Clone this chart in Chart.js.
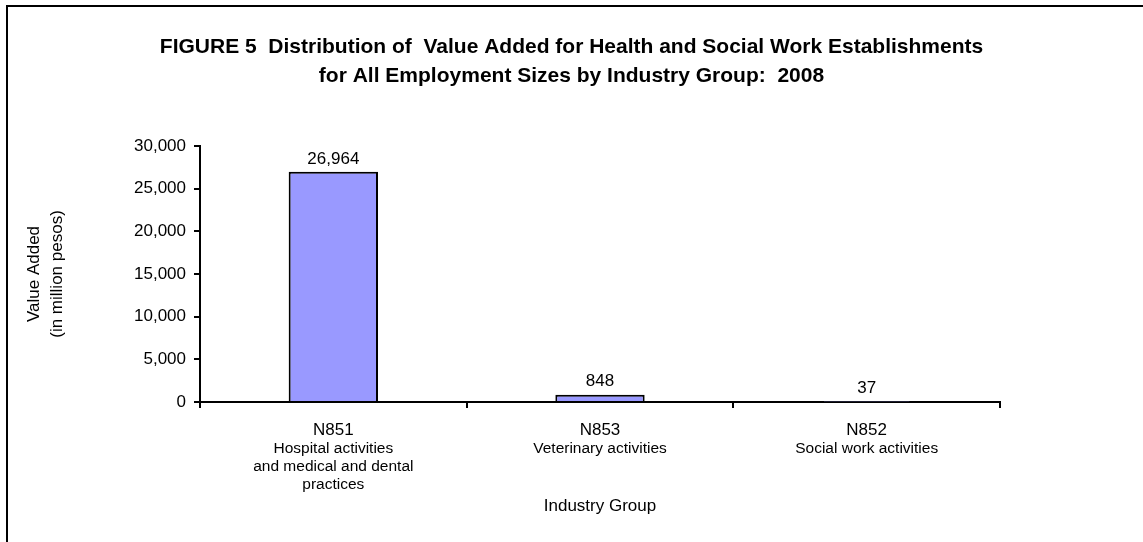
<!DOCTYPE html>
<html>
<head>
<meta charset="utf-8">
<script src="https://cdn.jsdelivr.net/npm/chart.js@4/dist/chart.umd.min.js"></script>
<style>
    html, body { margin: 0; padding: 0; background: #fff; overflow: hidden; }
    #frame { position: absolute; left: 6px; top: 5px; width: 1200px; height: 600px; border: 2px solid #000; }
    #wrap { position: absolute; left: 0; top: 0; width: 1143px; height: 542px; }
</style>
</head>
<body>
<div id="frame"></div>
<div id="wrap"><canvas id="chart"></canvas></div>
<script>
const codes = ['N851', 'N853', 'N852'];
const descriptions = [
    ['Hospital activities', 'and medical and dental', 'practices'],
    ['Veterinary activities'],
    ['Social work activities']
];
const valueAdded = [26964, 848, 37];
const yTicks = [0, 5000, 10000, 15000, 20000, 25000, 30000];

const fontFamily = "Arial, 'Liberation Sans', sans-serif";

// valeurs au-dessus des barres + libellés des groupes sous l'axe
const labelsPlugin = {
    id: 'labelsPlugin',
    afterDatasetsDraw(chart) {
        const ctx = chart.ctx;
        const meta = chart.getDatasetMeta(0);
        const xScale = chart.scales.x;
        ctx.save();
        ctx.fillStyle = '#000';
        ctx.textAlign = 'center';
        ctx.textBaseline = 'middle';
        ctx.font = '17px ' + fontFamily;
        meta.data.forEach((bar, i) => {
            ctx.fillText(valueAdded[i].toLocaleString('en-US'), bar.x, bar.y - 13);
        });
        ctx.font = '15.5px ' + fontFamily;
        descriptions.forEach((lines, i) => {
            const x = xScale.getPixelForValue(i);
            lines.forEach((line, j) => {
                ctx.fillText(line, x, 449 + j * 18);
            });
        });
        ctx.restore();
    }
};

const ctx = document.getElementById('chart').getContext('2d');
new Chart(ctx, {
    type: 'bar',
    data: {
        labels: codes,
        datasets: [{
            data: valueAdded,
            backgroundColor: '#9999FF',
            borderColor: '#000',
            borderWidth: 2,
            categoryPercentage: 1,
            barPercentage: 0.335
        }]
    },
    options: {
        responsive: true,
        maintainAspectRatio: false,
        animation: false,
        layout: { padding: 0 },
        plugins: {
            legend: { display: false },
            tooltip: { enabled: false },
            title: {
                display: true,
                text: ['FIGURE 5  Distribution of  Value Added for Health and Social Work Establishments',
                       'for All Employment Sizes by Industry Group:  2008'],
                color: '#000',
                font: { family: fontFamily, size: 21, weight: 'bold', lineHeight: 1.38 },
                padding: { top: 33, bottom: 55 }
            }
        },
        scales: {
            x: {
                afterFit(scale) { scale.height = 140; },
                grid: { offset: true, drawOnChartArea: false, tickLength: 6, color: '#000', lineWidth: 2 },
                border: { color: '#000', width: 2 },
                ticks: { color: '#000', padding: 12, font: { family: fontFamily, size: 17 } },
                title: {
                    display: true,
                    text: 'Industry Group',
                    color: '#000',
                    font: { family: fontFamily, size: 17 },
                    padding: { top: 0, bottom: 25 }
                }
            },
            y: {
                min: 0,
                max: 30000,
                afterFit(scale) { scale.width = 200; },
                afterBuildTicks(scale) { scale.ticks = yTicks.map(v => ({ value: v })); },
                grid: { drawOnChartArea: false, tickLength: 6, color: '#000', lineWidth: 2 },
                border: { color: '#000', width: 2 },
                ticks: {
                    color: '#000',
                    padding: 8,
                    font: { family: fontFamily, size: 17 },
                    callback: v => v.toLocaleString('en-US')
                },
                title: {
                    display: true,
                    text: ['Value Added', '(in million pesos)'],
                    color: '#000',
                    font: { family: fontFamily, size: 17, lineHeight: 1.4 },
                    padding: { top: 22, bottom: 0 }
                }
            },
            // axe vide à droite, seulement pour réserver la marge
            spacer: {
                position: 'right',
                afterFit(scale) { scale.width = 143; },
                grid: { display: false },
                border: { display: false },
                ticks: { display: false }
            }
        }
    },
    plugins: [labelsPlugin]
});
</script>
</body>
</html>
